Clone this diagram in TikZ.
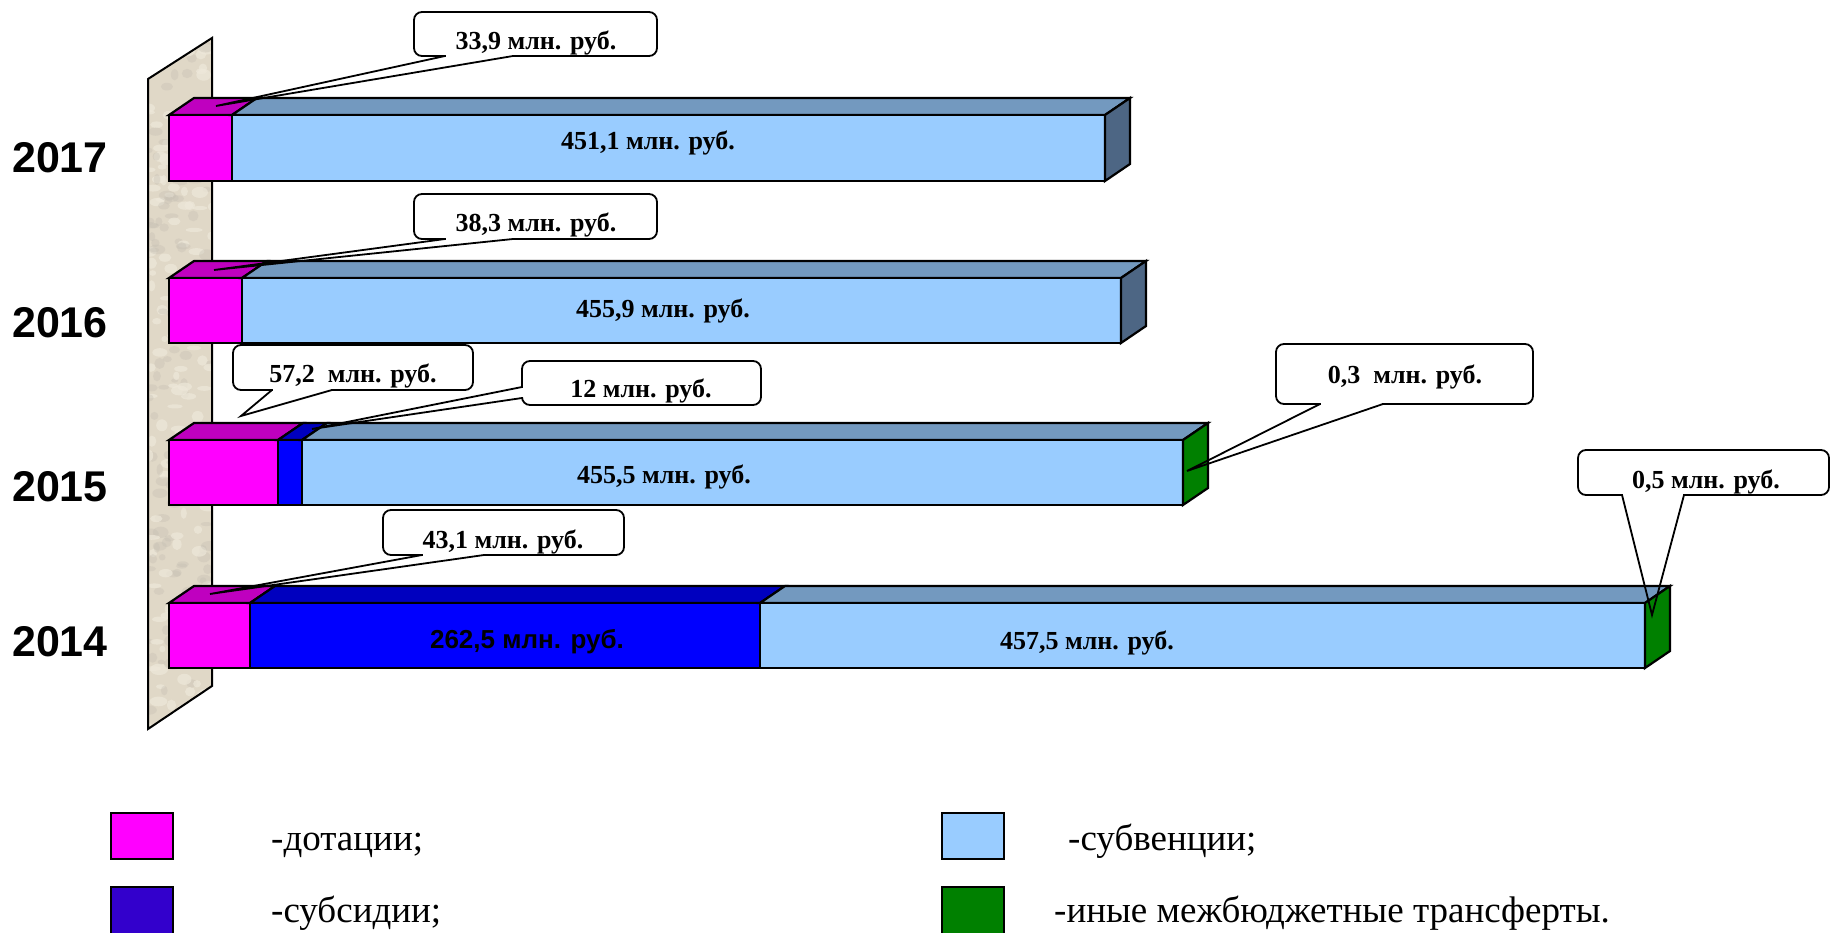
\documentclass[tikz,border=0pt]{standalone}
\usepackage{fontspec}
\setmainfont{Liberation Serif}
\newfontfamily\arialf{Liberation Sans}
\definecolor{mag}{HTML}{FF00FF}
\definecolor{magtop}{HTML}{BF00BF}
\definecolor{lb}{HTML}{99CCFF}
\definecolor{lbtop}{HTML}{7399BF}
\definecolor{lbside}{HTML}{4D6684}
\definecolor{bl}{HTML}{0000FF}
\definecolor{bltop}{HTML}{0000BF}
\definecolor{legbl}{HTML}{3300CC}
\definecolor{gr}{HTML}{008000}
\definecolor{wallc}{RGB}{224,216,199}
\definecolor{walllt}{RGB}{238,232,218}
\definecolor{walldk}{RGB}{196,190,178}
\tikzset{
  barln/.style={draw=black, line width=2.2pt, line join=miter},
  cobox/.style={draw=black, fill=white, line width=1.8pt, rounded corners=8},
  coline/.style={draw=black, line width=1.8pt, line join=miter},
  cotxt/.style={font=\fontsize{26}{30}\selectfont\bfseries, inner sep=0pt, anchor=base},
  yr/.style={font=\arialf\fontsize{43}{50}\selectfont\bfseries, inner sep=0pt},
  legbox/.style={draw=black, line width=1.4pt},
  legtxt/.style={font=\fontsize{37}{44}\selectfont, inner sep=0pt, anchor=base west}
}
\newcommand\barseg[6]{%
  \filldraw[barln,fill=#6] (#1,#3) -- (#1+25,#3-17) -- (#2+25,#3-17) -- (#2,#3) -- cycle;
  \filldraw[barln,fill=#5] (#1,#3) rectangle (#2,#4);}
\newcommand\barend[4]{%
  \filldraw[barln,fill=#4] (#1,#2) -- (#1+25,#2-17) -- (#1+25,#3-17) -- (#1,#3) -- cycle;}
% callout with pointer on the bottom edge:
% #1 left, #2 top, #3 right, #4 bottom, #5 base1 x, #6 base2 x, #7 tip
\newcommand\calloutbottom[7]{%
  \path[cobox] (#1,#2) rectangle (#3,#4);
  \fill[white] (#5+0.9,#4-1.3) rectangle (#6-0.9,#4+1.3);
  \draw[coline] (#5,#4) -- #7 -- (#6,#4);}
\begin{document}
\begin{tikzpicture}[x=1pt,y=-1pt]
\useasboundingbox (0,0) rectangle (1831,933);
\fill[white] (0,0) rectangle (1831,933);
% wall
\fill[wallc] (212,38) -- (148,79) -- (148,729) -- (212,686) -- cycle;
\begin{scope}
  \clip (212,38) -- (148,79) -- (148,729) -- (212,686) -- cycle;
  \pgfmathsetseed{11}
  \foreach \i in {1,...,260}{
    \pgfmathsetmacro\px{148+64*rnd}
    \pgfmathsetmacro\py{38+690*rnd}
    \pgfmathsetmacro\rx{3+6*rnd}
    \pgfmathsetmacro\ry{2+4*rnd}
    \pgfmathsetmacro\cc{rnd}
    \ifdim\cc pt<0.5pt
      \fill[walllt, opacity=0.7] (\px,\py) ellipse [x radius=\rx, y radius=\ry];
    \else
      \fill[walldk, opacity=0.35] (\px,\py) ellipse [x radius=\rx, y radius=\ry];
    \fi
  }
\end{scope}
\draw[black, line width=2pt] (212,38) -- (148,79) -- (148,729) -- (212,686) -- cycle;
% 2017
\barseg{169}{232}{115}{181}{mag}{magtop}
\barseg{232}{1105}{115}{181}{lb}{lbtop}
\barend{1105}{115}{181}{lbside}
% 2016
\barseg{169}{242}{278}{343}{mag}{magtop}
\barseg{242}{1121}{278}{343}{lb}{lbtop}
\barend{1121}{278}{343}{lbside}
% 2015
\barseg{169}{278}{440}{505}{mag}{magtop}
\barseg{278}{302}{440}{505}{bl}{bltop}
\barseg{302}{1183}{440}{505}{lb}{lbtop}
\barend{1183}{440}{505}{gr}
% 2014
\barseg{169}{250}{603}{668}{mag}{magtop}
\barseg{250}{760}{603}{668}{bl}{bltop}
\barseg{760}{1645}{603}{668}{lb}{lbtop}
\barend{1645}{603}{668}{gr}
% bar labels
\node[cotxt] (v2017) at (648,150) {451,1 млн. руб.};
\node[cotxt] (v2016) at (663,317) {455,9 млн. руб.};
\node[cotxt] (v2015) at (664,483) {455,5 млн. руб.};
\node[cotxt, font=\arialf\fontsize{26}{30}\selectfont\bfseries] (s2014) at (527,648) {262,5 млн. руб.};
\node[cotxt] (v2014) at (1087,649) {457,5 млн. руб.};
% years
\node[yr] (y2017) at (60,158) {2017};
\node[yr] (y2016) at (60,323) {2016};
\node[yr] (y2015) at (60,487) {2015};
\node[yr] (y2014) at (60,642) {2014};
% callouts
\calloutbottom{414}{12}{657}{56}{445}{513}{(216,106)}
\node[cotxt] (c1) at (536,50) {33,9 млн. руб.};
\calloutbottom{414}{194}{657}{239}{445}{513}{(214,270)}
\node[cotxt] (c2) at (536,232) {38,3 млн. руб.};
\calloutbottom{233}{345}{473}{390}{272}{332}{(241,416)}
\node[cotxt] (c3) at (353,382) {57,2 \ млн. руб.};
% callout 12 (pointer on the left edge)
\path[cobox] (522,361) rectangle (761,405);
\fill[white] (522-1.3,387+0.9) rectangle (522+1.3,398-0.9);
\draw[coline] (522,387) -- (312,429) -- (522,398);
\node[cotxt] (c4) at (641,397) {12 млн. руб.};
\calloutbottom{1276}{344}{1533}{404}{1320}{1383}{(1187,471)}
\node[cotxt] (c5) at (1405,383) {0,3 \ млн. руб.};
\calloutbottom{383}{510}{624}{555}{422}{484}{(210,594)}
\node[cotxt] (c6) at (503,548) {43,1 млн. руб.};
\calloutbottom{1578}{450}{1829}{495}{1622}{1684}{(1652,615)}
\node[cotxt] (c7) at (1706,488) {0,5 млн. руб.};
% legend
\begin{scope}
\clip (0,0) rectangle (1831,933);
\filldraw[legbox, fill=mag] (111,813) rectangle (173,859);
\filldraw[legbox, fill=legbl] (111,887) rectangle (173,945);
\filldraw[legbox, fill=lb] (942,813) rectangle (1004,859);
\filldraw[legbox, fill=gr] (942,887) rectangle (1004,945);
\end{scope}
\node[legtxt] (t1) at (271,850) {-дотации;};
\node[legtxt] (t2) at (271,922) {-субсидии;};
\node[legtxt] (t3) at (1068,850) {-субвенции;};
\node[legtxt] (t4) at (1054,922) {-иные межбюджетные трансферты.};
\end{tikzpicture}
\end{document}
